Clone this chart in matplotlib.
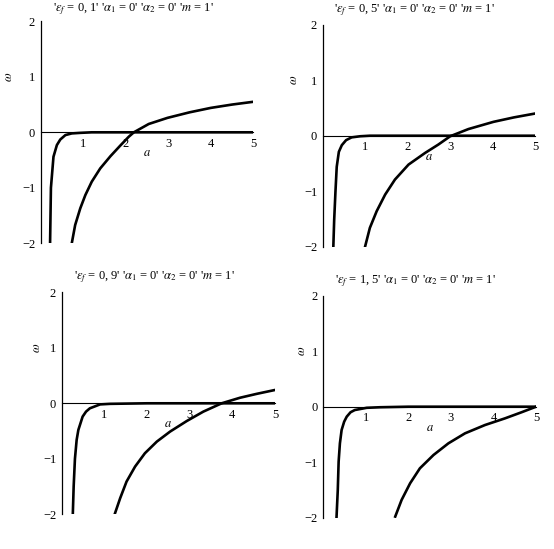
import numpy as np
import matplotlib as mpl
mpl.use('Agg')
import matplotlib.pyplot as plt

mpl.rcParams['font.family'] = ['Liberation Serif', 'DejaVu Serif']
mpl.rcParams['mathtext.fontset'] = 'stix'
mpl.rcParams['font.size'] = 9

## values
titles = [r"'$\epsilon_f$ = 0, 1' '$\alpha_1$ = 0' '$\alpha_2$ = 0' '$m$ = 1'",
          r"'$\epsilon_f$ = 0, 5' '$\alpha_1$ = 0' '$\alpha_2$ = 0' '$m$ = 1'",
          r"'$\epsilon_f$ = 0, 9' '$\alpha_1$ = 0' '$\alpha_2$ = 0' '$m$ = 1'",
          r"'$\epsilon_f$ = 1, 5' '$\alpha_1$ = 0' '$\alpha_2$ = 0' '$m$ = 1'"]

xticks = [1, 2, 3, 4, 5]
yticks = [-2, -1, 0, 1, 2]

# first branch (steep one near a = 0)
a1_p1 = [0.22, 0.24, 0.30, 0.38, 0.46, 0.58, 0.73, 0.93, 1.2, 2.0, 3.0, 4.0, 5.0]
w1_p1 = [-2.0, -1.0, -0.44, -0.23, -0.13, -0.05, -0.02, -0.01, 0.0, 0.0, 0.0, 0.0, 0.0]
a1_p2 = [0.25, 0.27, 0.30, 0.33, 0.38, 0.45, 0.55, 0.68, 0.88, 1.11, 2.0, 3.0, 4.0, 5.0]
w1_p2 = [-2.0, -1.52, -1.01, -0.56, -0.29, -0.17, -0.08, -0.03, -0.01, 0.0, 0.0, 0.0, 0.0, 0.0]
a1_p3 = [0.26, 0.28, 0.31, 0.35, 0.39, 0.49, 0.57, 0.66, 0.90, 1.13, 2.0, 3.0, 4.0, 5.0]
w1_p3 = [-2.0, -1.5, -1.0, -0.66, -0.48, -0.24, -0.15, -0.09, -0.02, -0.01, 0.0, 0.0, 0.0, 0.0]
a1_p4 = [0.31, 0.34, 0.36, 0.39, 0.43, 0.49, 0.55, 0.64, 0.74, 1.02, 1.33, 2.0, 3.0, 4.0, 5.0]
w1_p4 = [-2.0, -1.5, -0.99, -0.66, -0.42, -0.27, -0.18, -0.10, -0.06, -0.02, -0.01, 0.0, 0.0, 0.0, 0.0]

# second branch (slow one crossing zero)
a2_p1 = [0.73, 0.81, 0.93, 1.05, 1.20, 1.40, 1.64, 1.87, 2.07, 2.19, 2.54, 2.98, 3.5, 4.0, 4.5, 5.0]
w2_p1 = [-2.0, -1.67, -1.37, -1.13, -0.89, -0.65, -0.43, -0.24, -0.08, 0.0, 0.15, 0.26, 0.36, 0.44, 0.50, 0.55]
a2_p2 = [1.0, 1.11, 1.27, 1.47, 1.70, 2.02, 2.41, 2.72, 3.0, 3.43, 4.02, 4.5, 5.0]
w2_p2 = [-1.99, -1.66, -1.36, -1.06, -0.79, -0.52, -0.31, -0.16, -0.01, 0.12, 0.25, 0.33, 0.40]
a2_p3 = [1.25, 1.37, 1.52, 1.72, 1.95, 2.23, 2.54, 2.93, 3.32, 3.75, 4.18, 4.57, 5.0]
w2_p3 = [-1.98, -1.71, -1.41, -1.14, -0.90, -0.69, -0.51, -0.32, -0.15, 0.0, 0.10, 0.17, 0.24]
a2_p4 = [1.69, 1.84, 2.04, 2.27, 2.59, 2.94, 3.33, 3.80, 4.27, 4.66, 5.0]
w2_p4 = [-1.98, -1.68, -1.38, -1.11, -0.87, -0.66, -0.48, -0.33, -0.21, -0.10, 0.0]

branch1 = [(a1_p1, w1_p1), (a1_p2, w1_p2), (a1_p3, w1_p3), (a1_p4, w1_p4)]
branch2 = [(a2_p1, w2_p1), (a2_p2, w2_p2), (a2_p3, w2_p3), (a2_p4, w2_p4)]

# axes boxes (left, bottom, width, height) in figure fraction
boxes = [[0.0735, 0.5568, 0.3838, 0.4044],
         [0.5825, 0.5506, 0.3835, 0.4044],
         [0.1114, 0.0632, 0.3850, 0.4044],
         [0.5836, 0.0570, 0.3840, 0.4044]]
omega_dx = [-0.75, -0.68, -0.59, -0.51]
title_y = [2.21, 2.26, 2.28, 2.26]

fig = plt.figure(figsize=(5.54, 5.49), dpi=100)

for i in range(4):
  ax = fig.add_axes(boxes[i])
  ax.set_xlim(0, 5)
  ax.set_ylim(-2, 2)
  for s in ['top', 'right']:
    ax.spines[s].set_visible(False)
  ax.spines['bottom'].set_position(('data', 0))
  ax.spines['left'].set_position(('data', 0))
  ax.spines['bottom'].set_linewidth(0.8)
  ax.spines['left'].set_linewidth(0.9)
  ax.set_xticks(xticks)
  ax.set_yticks(yticks)
  ax.tick_params(axis='x', length=0, pad=4)
  ax.tick_params(axis='y', length=0, pad=4)

  ax.plot(branch1[i][0], branch1[i][1], color='k', lw=1.9, solid_joinstyle='round')
  ax.plot(branch2[i][0], branch2[i][1], color='k', lw=1.9, solid_joinstyle='round')

  ax.text(2.5, -0.38, r'$a$', ha='center', va='center', fontsize=9)
  ax.text(omega_dx[i], 1.0, r'$\omega$', rotation=90, ha='center', va='center',
          fontsize=9, clip_on=False)
  ax.text(2.17, title_y[i], titles[i], ha='center', va='center', fontsize=9, clip_on=False)

fig.savefig('out.png', dpi=100)
